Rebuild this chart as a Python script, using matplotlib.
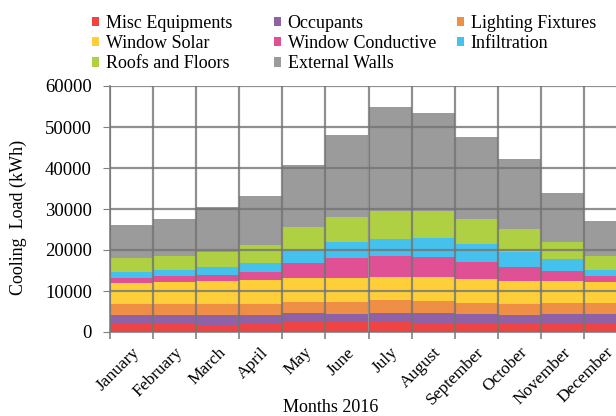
import matplotlib
matplotlib.use("Agg")
import matplotlib.pyplot as plt
import numpy as np

plt.rcParams["font.family"] = ["Liberation Serif", "DejaVu Serif"]

MONTHS = ["January", "February", "March", "April", "May", "June", "July",
          "August", "September", "October", "November", "December"]

# Cooling load components (kWh)
MISC = [2100, 1950, 1800, 1950, 2450, 2450, 2450, 2100, 2100, 1870, 2100, 2100]
OCCUPANTS = [2130, 2120, 2430, 2280, 2100, 1870, 2100, 2450, 2200, 2200, 2200, 2200]
LIGHTING = [2520, 2680, 2520, 2520, 2850, 3080, 3250, 3000, 2850, 2680, 2680, 2680]
WINDOW_SOLAR = [5100, 5530, 5700, 6000, 5700, 5700, 5700, 5950, 5700, 5770, 5450, 5300]
WINDOW_COND = [1220, 1380, 1540, 1960, 3660, 4880, 5120, 4700, 4220, 3400, 2520, 1380]
INFILTRATION = [1630, 1540, 1790, 2030, 3250, 4070, 3980, 4640, 4300, 3660, 2760, 1460]
ROOFS = [3250, 3420, 3820, 4550, 5520, 5930, 6900, 6660, 6100, 5600, 4230, 3420]
EXT_WALLS = [8250, 9050, 10800, 11900, 15200, 20000, 25500, 24000, 20000, 17100, 11850, 8650]

SERIES = [
    ("Misc Equipments", MISC, "#ee4444"),
    ("Occupants", OCCUPANTS, "#8f62a8"),
    ("Lighting Fixtures", LIGHTING, "#ee8f45"),
    ("Window Solar", WINDOW_SOLAR, "#ffcf3a"),
    ("Window Conductive", WINDOW_COND, "#e05095"),
    ("Infiltration", INFILTRATION, "#45c1ee"),
    ("Roofs and Floors", ROOFS, "#aed042"),
    ("External Walls", EXT_WALLS, "#9b9b9b"),
]

W, H = 616, 416
fig = plt.figure(figsize=(W / 100, H / 100), dpi=100)
# plot area runs a little past the right edge of the picture, like the original
ax = fig.add_axes([110 / W, 1 - 332 / H, 517 / W, 246 / H])

x = np.arange(len(MONTHS))
bottom = np.zeros(len(MONTHS))
handles = []
for name, vals, col in SERIES:
    b = ax.bar(x, vals, width=1.0, bottom=bottom, color=col, label=name,
               edgecolor="none", zorder=2)
    handles.append(b)
    bottom += np.array(vals)

ax.set_xlim(-0.5, len(MONTHS) - 0.5)
ax.set_ylim(0, 60000)
ax.set_yticks(np.arange(0, 60001, 10000))
ax.tick_params(axis="y", labelsize=13.5, length=5, color="#808080", pad=8)

ax.set_xticks(x)
ax.set_xticklabels(MONTHS, rotation=45, ha="right", rotation_mode="anchor", fontsize=12.5)
ax.tick_params(axis="x", which="major", length=0, pad=9)
ax.set_xticks(np.arange(-0.5, len(MONTHS)), minor=True)
ax.tick_params(axis="x", which="minor", length=5, color="#808080", width=1.2)

# gridlines drawn over the bars, as in the original
ax.grid(axis="y", which="major", color="#747474", linewidth=1.6, alpha=0.8, zorder=5)
ax.grid(axis="x", which="minor", color="#747474", linewidth=1.6, alpha=0.8, zorder=5)
ax.set_axisbelow(False)

for side in ("top", "right"):
    ax.spines[side].set_visible(False)
for side in ("left", "bottom"):
    ax.spines[side].set_color("#808080")
    ax.spines[side].set_linewidth(1.2)

ax.set_ylabel("Cooling  Load (kWh)", fontsize=13)
ax.yaxis.set_label_coords((27 - 110) / 517, (332 - 217) / 246)
ax.set_xlabel("Months 2016", fontsize=13)
ax.xaxis.set_label_coords((331 - 110) / 517, (332 - 399) / 246)

# legend: three fixed-width columns, filled row by row
columns = [[0, 3, 6], [1, 4, 7], [2, 5]]
col_x = [92, 274, 457]
for idx, cx in zip(columns, col_x):
    fig.legend([handles[i] for i in idx], [SERIES[i][0] for i in idx],
               loc="upper left", bbox_to_anchor=(cx / W, 1 - 15 / H),
               ncol=1, frameon=False, fontsize=13, handlelength=0.4,
               handleheight=0.4, handletextpad=0.35, labelspacing=0.18,
               borderpad=0, borderaxespad=0)

fig.savefig("out.png", dpi=100)
